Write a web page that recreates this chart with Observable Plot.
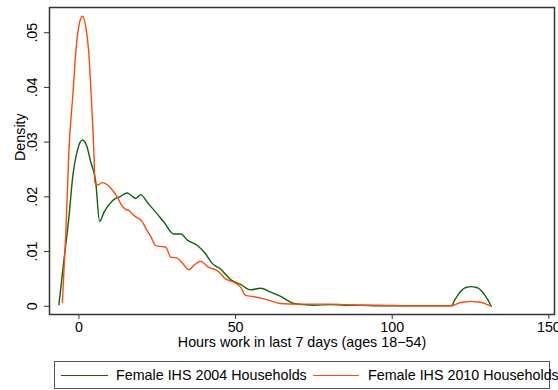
<!DOCTYPE html>
<html>
<head>
<meta charset="utf-8">
<script src="https://cdn.jsdelivr.net/npm/d3@7"></script>
<script src="https://cdn.jsdelivr.net/npm/@observablehq/plot@0.6"></script>
<style>
  html, body { margin: 0; padding: 0; background: #fff; }
  body { width: 558px; height: 390px; overflow: hidden; font-family: "Liberation Sans", Arial, sans-serif; }
  #legend { position: relative; margin-left: 54px; margin-top: 5px; width: 494px; height: 26px; border: 1px solid #555; box-sizing: content-box; font-size: 14.3px; color: #000; }
  #legend .sw { position: absolute; top: 13px; height: 0; border-top: 1.3px solid; }
  #legend .lb { position: absolute; top: 5px; white-space: nowrap; line-height: 16px; }
</style>
</head>
<body>
<div id="chart"></div>
<div id="legend"></div>
<script>
const seriesNames = ["Female IHS 2004 Households", "Female IHS 2010 Households"];
const seriesColors = ["#0a640a", "#ff4a0a"];

const x2004 = [-6.4, -4.8, -3.2, -2.0, -0.5, 1.1, 2.5, 3.7, 5.3, 6.6, 8.0, 10.7, 13.3, 15.4, 16.8, 18.1, 19.7, 21.8, 24.5, 27.1, 30.3, 32.5, 34.6, 37.8, 40.4, 42.6, 45.2, 48.4, 51.6, 54.8, 58.0, 61.2, 64.4, 68.6, 72, 75, 80.3, 85, 90, 95, 105, 112, 118.9, 120, 121, 122, 123, 124, 125.2, 126.5, 127.5, 128.5, 129.5, 130.5, 131.6];
const y2004 = [0.0003, 0.0084, 0.0163, 0.0236, 0.0285, 0.0304, 0.0293, 0.0265, 0.0230, 0.0155, 0.0172, 0.0193, 0.0201, 0.0207, 0.0202, 0.0197, 0.0204, 0.0190, 0.0172, 0.0154, 0.0132, 0.0132, 0.0121, 0.0111, 0.0096, 0.0078, 0.0068, 0.0049, 0.0040, 0.0030, 0.0033, 0.0026, 0.0018, 0.0005, 0.0003, 0.0002, 0.0003, 0.0002, 0.0002, 0.0001, 0.0001, 0.0001, 0.0001, 0.0012, 0.0021, 0.0028, 0.0033, 0.0035, 0.0036, 0.0035, 0.0033, 0.0028, 0.0021, 0.0012, 0.0000];

const x2010 = [-5.3, -4.2, -3.2, -1.8, -1.1, 0, 1.1, 2.1, 3.2, 3.8, 4.8, 5.1, 6.0, 7.5, 8.5, 10.1, 12.3, 13.6, 14.9, 16.0, 17.1, 18.6, 19.7, 21.8, 22.9, 24.5, 26.6, 27.7, 29.3, 31.4, 33.0, 35.1, 36.7, 38.8, 41.5, 44.2, 46.8, 49.5, 51.6, 53.2, 55.3, 58.0, 61.2, 64.4, 69.7, 75, 80.3, 85, 90, 95, 105, 112, 118.9, 120.5, 122, 123.5, 125.2, 127, 128.5, 130, 131.2];
const y2010 = [0.0007, 0.0132, 0.0285, 0.0397, 0.0458, 0.0513, 0.0530, 0.0513, 0.0458, 0.0397, 0.0276, 0.0226, 0.0222, 0.0226, 0.0224, 0.0216, 0.0199, 0.0185, 0.0177, 0.0175, 0.0168, 0.0162, 0.0158, 0.0138, 0.0128, 0.0111, 0.0109, 0.0108, 0.0090, 0.0088, 0.0079, 0.0067, 0.0075, 0.0082, 0.0071, 0.0065, 0.0050, 0.0044, 0.0035, 0.0020, 0.0018, 0.0015, 0.0010, 0.0005, 0.0004, 0.0004, 0.0004, 0.0003, 0.0002, 0.0002, 0.0001, 0.0001, 0.0001, 0.0004, 0.0007, 0.0008, 0.0009, 0.0008, 0.0007, 0.0004, 0.0001];

const xTicks = [0, 50, 100, 150];
const yTicks = [0, 0.01, 0.02, 0.03, 0.04, 0.05];
const yTickLabels = ["0", ".01", ".02", ".03", ".04", ".05"];
const xLabel = "Hours work in last 7 days (ages 18\u221254)";
const yLabel = "Density";

const d2004 = x2004.map((x, i) => ({x, y: y2004[i]}));
const d2010 = x2010.map((x, i) => ({x, y: y2010[i]}));

const FS = 14.3;
const chart = Plot.plot({
  width: 558,
  height: 356,
  marginLeft: 49,
  marginRight: 4,
  marginTop: 7,
  marginBottom: 42,
  x: {domain: [-9.4, 151.8]},
  y: {domain: [-0.0015, 0.0546]},
  style: {fontFamily: "'Liberation Sans', Arial, sans-serif", fontSize: FS + "px", color: "#000", background: "#fff"},
  marks: [
    Plot.frame({stroke: "#333", strokeWidth: 1.5}),
    Plot.line(d2004, {x: "x", y: "y", stroke: seriesColors[0], strokeWidth: 1.4, curve: "monotone-x"}),
    Plot.line(d2010, {x: "x", y: "y", stroke: seriesColors[1], strokeWidth: 1.4, curve: "monotone-x"}),
    Plot.axisX({ticks: xTicks, tickSize: 5, tickPadding: 2, label: null, fontSize: FS, stroke: "#333"}),
    Plot.axisY({ticks: yTicks, tickFormat: (d) => yTickLabels[yTicks.indexOf(d)], tickSize: 5, tickRotate: -90, tickPadding: 8, label: null, fontSize: FS, stroke: "#333"}),
    Plot.text([xLabel], {frameAnchor: "bottom", dy: 32, fontSize: FS}),
    Plot.text([yLabel], {frameAnchor: "left", dx: -29, rotate: -90, fontSize: FS})
  ]
});
document.getElementById("chart").append(chart);

const legend = document.getElementById("legend");
const swX = [6, 258];
const lbX = [61, 313];
const swW = [47, 46];
seriesNames.forEach((name, i) => {
  const s = document.createElement("div");
  s.className = "sw";
  s.style.left = swX[i] + "px";
  s.style.width = swW[i] + "px";
  s.style.borderTopColor = seriesColors[i];
  legend.append(s);
  const t = document.createElement("div");
  t.className = "lb";
  t.style.left = lbX[i] + "px";
  t.textContent = name;
  legend.append(t);
});
</script>
</body>
</html>
